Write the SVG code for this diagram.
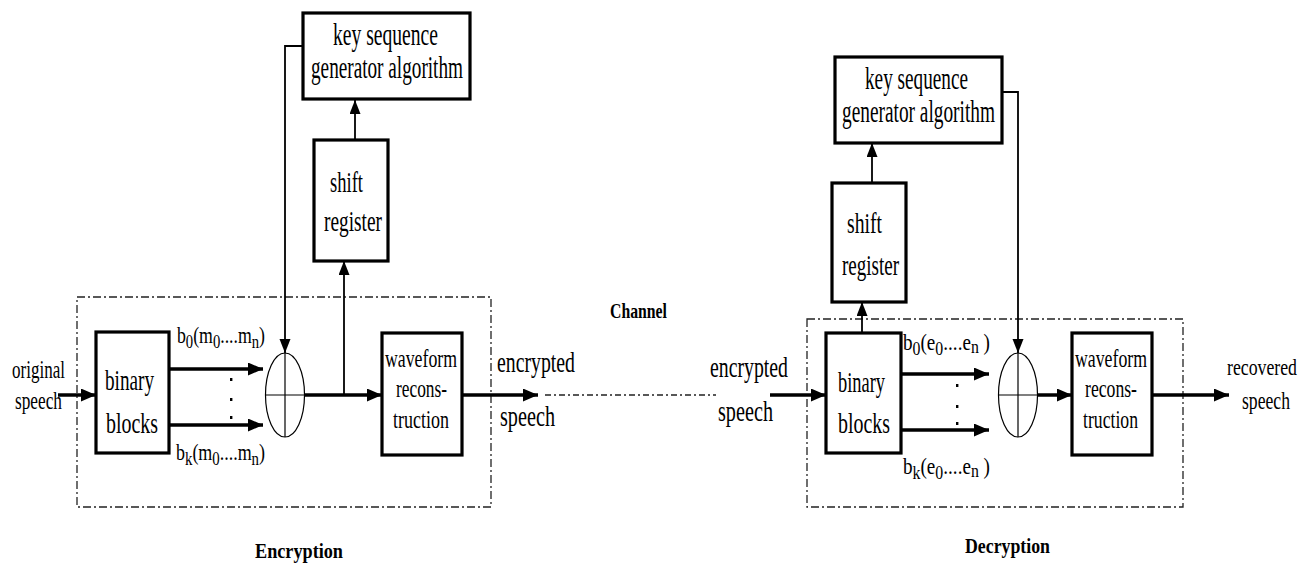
<svg xmlns="http://www.w3.org/2000/svg" width="1314" height="570" viewBox="0 0 1314 570">
  <style>
    .box { fill: #fff; stroke: #000; stroke-width: 3.2; }
    .frame { fill: none; stroke: #222; stroke-width: 1.3; stroke-dasharray: 8 3 2 3; }
    .thick { fill: none; stroke: #000; stroke-width: 3.4; }
    .thin { fill: none; stroke: #000; stroke-width: 1.8; }
    .hair { fill: none; stroke: #000; stroke-width: 1.2; }
    .chan { fill: none; stroke: #222; stroke-width: 1.3; stroke-dasharray: 6 3 2 3; }
    text { font-family: "Liberation Serif", "Times New Roman", serif; fill: #000; }
    .lbl { font-size: 30px; }
    .key { font-size: 32px; }
    .sm { font-size: 26px; }
    .rec { font-size: 24px; }
    .wf { font-size: 25px; }
    .sub { font-size: 23px; }
    .bold { font-size: 22px; font-weight: bold; }
  </style>
  <defs>
    <marker id="ah" markerUnits="userSpaceOnUse" markerWidth="16" markerHeight="14" refX="15" refY="6.5" orient="auto">
      <path d="M0,0 L15,6.5 L0,13 z" fill="#000"/>
    </marker>
    <marker id="ahs" markerUnits="userSpaceOnUse" markerWidth="14" markerHeight="12" refX="14" refY="5.5" orient="auto">
      <path d="M0,0 L14,5.5 L0,11 z" fill="#000"/>
    </marker>
  </defs>

  <!-- enclosing frames -->
  <g id="frames">
    <rect class="frame" x="77" y="297" width="414" height="210"/>
    <rect class="frame" x="807" y="319" width="376" height="188"/>
  </g>

  <!-- connectors -->
  <g id="connectors">
    <!-- encryption side -->
    <line class="thick" x1="58" y1="395" x2="96" y2="395" marker-end="url(#ah)"/>
    <line class="thick" x1="170" y1="369" x2="263" y2="369" marker-end="url(#ah)"/>
    <line class="thick" x1="170" y1="425" x2="263" y2="425" marker-end="url(#ah)"/>
    <polyline class="thin" points="303,46 285,46 285,353" marker-end="url(#ahs)"/>
    <line class="thin" x1="344" y1="395" x2="344" y2="261" marker-end="url(#ahs)"/>
    <line class="thin" x1="355" y1="140" x2="355" y2="100" marker-end="url(#ahs)"/>
    <line class="thick" x1="304" y1="395" x2="382" y2="395" marker-end="url(#ah)"/>
    <line class="thick" x1="462" y1="395" x2="538" y2="395" marker-end="url(#ah)"/>
    <!-- channel -->
    <line class="chan" x1="545" y1="395" x2="716" y2="395"/>
    <!-- decryption side -->
    <line class="thick" x1="770" y1="395" x2="826" y2="395" marker-end="url(#ah)"/>
    <line class="thick" x1="901" y1="374" x2="989" y2="374" marker-end="url(#ah)"/>
    <line class="thick" x1="901" y1="430" x2="989" y2="430" marker-end="url(#ah)"/>
    <line class="thin" x1="862" y1="333" x2="862" y2="302" marker-end="url(#ahs)"/>
    <line class="thin" x1="872" y1="183" x2="872" y2="143" marker-end="url(#ahs)"/>
    <polyline class="thin" points="1002,92 1018,92 1018,353" marker-end="url(#ahs)"/>
    <line class="thick" x1="1038" y1="395" x2="1072" y2="395" marker-end="url(#ah)"/>
    <line class="thick" x1="1152" y1="395" x2="1229" y2="395" marker-end="url(#ah)"/>
  </g>

  <!-- vertical dot columns between parallel block outputs -->
  <g id="dots" fill="#000">
    <rect x="230" y="378" width="2.4" height="3"/>
    <rect x="230" y="398" width="2.4" height="3"/>
    <rect x="230" y="416" width="2.4" height="3"/>
    <rect x="956" y="384" width="2.4" height="3"/>
    <rect x="956" y="405" width="2.4" height="3"/>
    <rect x="956" y="422" width="2.4" height="3"/>
  </g>

  <!-- ENCRYPTION -->
  <g id="enc-key">
    <rect class="box" x="303" y="13" width="167" height="86"/>
    <text class="key" x="333" y="45" textLength="105" lengthAdjust="spacingAndGlyphs">key sequence</text>
    <text class="key" x="311" y="78" textLength="152" lengthAdjust="spacingAndGlyphs">generator algorithm</text>
  </g>
  <g id="enc-shift">
    <rect class="box" x="314" y="140" width="74" height="121"/>
    <text class="lbl" x="330" y="192" textLength="33" lengthAdjust="spacingAndGlyphs">shift</text>
    <text class="lbl" x="324" y="231" textLength="58" lengthAdjust="spacingAndGlyphs">register</text>
  </g>
  <g id="enc-binary">
    <rect class="box" x="96" y="332" width="73" height="121"/>
    <text class="lbl" x="105" y="390" textLength="49" lengthAdjust="spacingAndGlyphs">binary</text>
    <text class="lbl" x="106" y="433" textLength="52" lengthAdjust="spacingAndGlyphs">blocks</text>
  </g>
  <g id="enc-xor">
    <ellipse class="hair" cx="285" cy="395" rx="19.5" ry="42"/>
    <line class="hair" x1="285" y1="353" x2="285" y2="437"/>
    <line class="hair" x1="265.5" y1="395" x2="304.5" y2="395"/>
  </g>
  <g id="enc-wave">
    <rect class="box" x="382" y="333" width="80" height="122"/>
    <text class="wf" x="385" y="367" textLength="72" lengthAdjust="spacingAndGlyphs">waveform</text>
    <text class="wf" x="396" y="397" textLength="51" lengthAdjust="spacingAndGlyphs">recons-</text>
    <text class="wf" x="393" y="428" textLength="56" lengthAdjust="spacingAndGlyphs">truction</text>
  </g>
  <g id="enc-labels">
    <text class="sm" x="12" y="378" textLength="53" lengthAdjust="spacingAndGlyphs">original</text>
    <text class="sm" x="15" y="409" textLength="47" lengthAdjust="spacingAndGlyphs">speech</text>
    <text class="sub" x="177" y="343" textLength="88" lengthAdjust="spacingAndGlyphs">b<tspan font-size="19" dy="5">0</tspan><tspan dy="-5">(m</tspan><tspan font-size="19" dy="5">0</tspan><tspan dy="-5">....m</tspan><tspan font-size="19" dy="5">n</tspan><tspan dy="-5">)</tspan></text>
    <text class="sub" x="176" y="460" textLength="89" lengthAdjust="spacingAndGlyphs">b<tspan font-size="19" dy="5">k</tspan><tspan dy="-5">(m</tspan><tspan font-size="19" dy="5">0</tspan><tspan dy="-5">....m</tspan><tspan font-size="19" dy="5">n</tspan><tspan dy="-5">)</tspan></text>
    <text class="lbl" x="497" y="372" textLength="78" lengthAdjust="spacingAndGlyphs">encrypted</text>
    <text class="lbl" x="500" y="426" textLength="55" lengthAdjust="spacingAndGlyphs">speech</text>
    <text class="bold" x="255" y="558" textLength="88" lengthAdjust="spacingAndGlyphs">Encryption</text>
  </g>

  <g id="channel-label">
    <text class="bold" x="610" y="318" textLength="57" lengthAdjust="spacingAndGlyphs">Channel</text>
  </g>

  <!-- DECRYPTION -->
  <g id="dec-key">
    <rect class="box" x="835" y="57" width="167" height="86"/>
    <text class="key" x="865" y="89" textLength="103" lengthAdjust="spacingAndGlyphs">key sequence</text>
    <text class="key" x="842" y="122" textLength="153" lengthAdjust="spacingAndGlyphs">generator algorithm</text>
  </g>
  <g id="dec-shift">
    <rect class="box" x="832" y="183" width="74" height="119"/>
    <text class="lbl" x="847" y="233" textLength="35" lengthAdjust="spacingAndGlyphs">shift</text>
    <text class="lbl" x="842" y="275" textLength="57" lengthAdjust="spacingAndGlyphs">register</text>
  </g>
  <g id="dec-binary">
    <rect class="box" x="826" y="333" width="75" height="120"/>
    <text class="lbl" x="838" y="392" textLength="47" lengthAdjust="spacingAndGlyphs">binary</text>
    <text class="lbl" x="838" y="433" textLength="52" lengthAdjust="spacingAndGlyphs">blocks</text>
  </g>
  <g id="dec-xor">
    <ellipse class="hair" cx="1018" cy="395" rx="19.5" ry="42"/>
    <line class="hair" x1="1018" y1="353" x2="1018" y2="437"/>
    <line class="hair" x1="998.5" y1="395" x2="1037.5" y2="395"/>
  </g>
  <g id="dec-wave">
    <rect class="box" x="1072" y="333" width="80" height="122"/>
    <text class="wf" x="1075" y="367" textLength="72" lengthAdjust="spacingAndGlyphs">waveform</text>
    <text class="wf" x="1085" y="397" textLength="52" lengthAdjust="spacingAndGlyphs">recons-</text>
    <text class="wf" x="1083" y="428" textLength="55" lengthAdjust="spacingAndGlyphs">truction</text>
  </g>
  <g id="dec-labels">
    <text class="lbl" x="710" y="377" textLength="78" lengthAdjust="spacingAndGlyphs">encrypted</text>
    <text class="lbl" x="718" y="421" textLength="55" lengthAdjust="spacingAndGlyphs">speech</text>
    <text class="sub" x="903" y="350" textLength="87" lengthAdjust="spacingAndGlyphs">b<tspan font-size="19" dy="5">0</tspan><tspan dy="-5">(e</tspan><tspan font-size="19" dy="5">0</tspan><tspan dy="-5">....e</tspan><tspan font-size="19" dy="3">n</tspan><tspan dy="-3"> )</tspan></text>
    <text class="sub" x="903" y="474" textLength="87" lengthAdjust="spacingAndGlyphs">b<tspan font-size="19" dy="5">k</tspan><tspan dy="-5">(e</tspan><tspan font-size="19" dy="5">0</tspan><tspan dy="-5">....e</tspan><tspan font-size="19" dy="3">n</tspan><tspan dy="-3"> )</tspan></text>
    <text class="rec" x="1227" y="375" textLength="70" lengthAdjust="spacingAndGlyphs">recovered</text>
    <text class="sm" x="1242" y="409" textLength="48" lengthAdjust="spacingAndGlyphs">speech</text>
    <text class="bold" x="965" y="553" textLength="85" lengthAdjust="spacingAndGlyphs">Decryption</text>
  </g>
</svg>
